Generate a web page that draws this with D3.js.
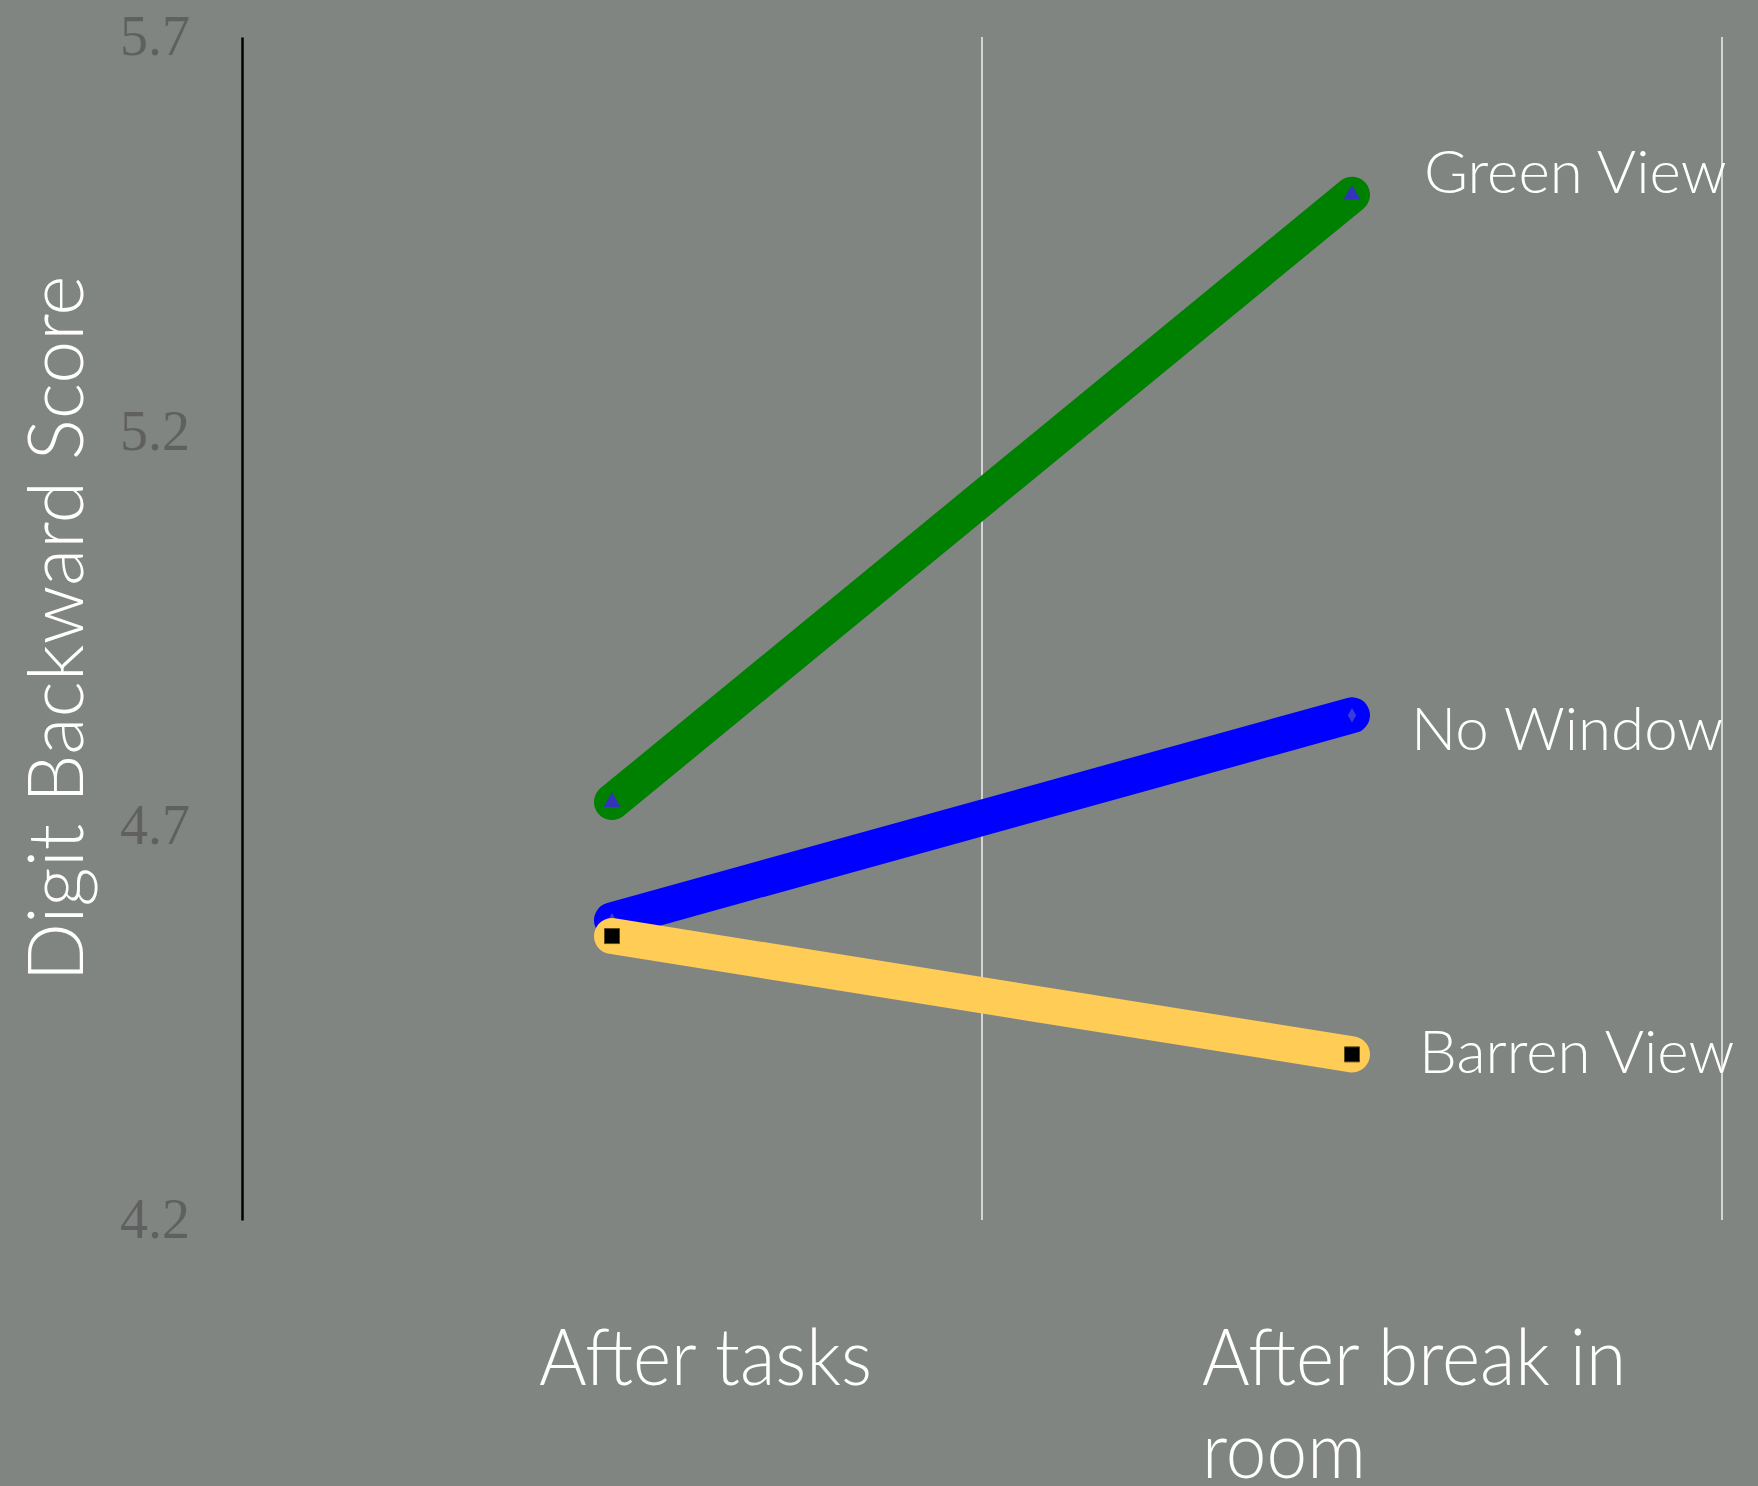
<!DOCTYPE html>
<html>
<head>
<meta charset="utf-8">
<script src="https://cdn.jsdelivr.net/npm/d3@7"></script>
<style>
  html, body { margin: 0; padding: 0; background: #808582; }
  svg { display: block; }
</style>
</head>
<body>
<svg id="chart" width="1758" height="1486"></svg>
<script>
// Digit backward scores at two measurement moments, per room condition
const categories = ["After tasks", "After break in room"];
const seriesNames = ["Green View", "No Window", "Barren View"];
const greenView = [4.73, 5.50];
const noWindow = [4.58, 4.84];
const barrenView = [4.56, 4.41];
const yTicks = [4.2, 4.7, 5.2, 5.7];
const yDomain = [4.2, 5.7];

const series = [
  { name: seriesNames[0], values: greenView, color: "#008000", marker: "triangle", markerColor: "#3333bb", markerSize: 15 },
  { name: seriesNames[1], values: noWindow, color: "#0000ff", marker: "diamond", markerColor: "#3a3ad6", markerSize: 10 },
  { name: seriesNames[2], values: barrenView, color: "#ffcc55", marker: "square", markerColor: "#000000", markerSize: 15 }
];

const svg = d3.select("#chart");
const W = 1758, H = 1486;
const plot = { left: 242, right: 1722, top: 37, bottom: 1220 };

svg.append("rect").attr("width", W).attr("height", H).attr("fill", "#808582");

const x = d3.scaleBand().domain(categories).range([plot.left, plot.right]).padding(0);
const y = d3.scaleLinear().domain(yDomain).range([plot.bottom, plot.top]);

// band boundary gridlines
const bounds = categories.map(c => x(c) + x.bandwidth());
svg.append("g").selectAll("line").data(bounds).join("line")
  .attr("x1", d => d).attr("x2", d => d)
  .attr("y1", plot.top).attr("y2", plot.bottom)
  .attr("stroke", "#d4d4d4").attr("stroke-width", 2);

// y axis
const yAxis = svg.append("g").attr("transform", `translate(${plot.left},0)`)
  .call(d3.axisLeft(y).tickValues(yTicks).tickFormat(d3.format(".1f")).tickSize(0).tickPadding(52));
yAxis.select(".domain").attr("stroke", "#000").attr("stroke-width", 2.5);
yAxis.selectAll("text")
  .attr("font-family", "'Liberation Serif', 'DejaVu Serif', serif")
  .attr("font-size", 56)
  .attr("fill", "#606060");

// y title
svg.append("text")
  .attr("transform", `translate(83, ${(plot.top + plot.bottom) / 2 + 0}) rotate(-90)`)
  .attr("text-anchor", "middle")
  .attr("font-family", "Lato, 'Open Sans', sans-serif")
  .attr("font-weight", 300)
  .attr("font-size", 76)
  .attr("textLength", 706)
  .attr("lengthAdjust", "spacingAndGlyphs")
  .attr("fill", "#ffffff")
  .text("Digit Backward Score");

// x category labels, wrapped onto lines and slightly condensed
const xLabelShift = [-73, -150];
const condense = 0.935;
const xLabels = svg.append("g");
categories.forEach((c, i) => {
  const cx = x(c) + x.bandwidth() / 2 + xLabelShift[i];
  const words = c.split(" ");
  const lines = i === 0 ? [c] : [words.slice(0, 3).join(" "), words.slice(3).join(" ")];
  lines.forEach((ln, k) => {
    const t = xLabels.append("text")
      .attr("x", cx).attr("y", 1385 + k * 93)
      .attr("font-family", "Lato, 'Open Sans', sans-serif")
      .attr("font-weight", 300)
      .attr("font-size", 78)
      .attr("fill", "#ffffff")
      .text(ln);
    const w = t.node().getComputedTextLength();
    t.attr("textLength", w * condense).attr("lengthAdjust", "spacingAndGlyphs");
  });
});

// lines with markers
const line = d3.line().x((d, i) => x(categories[i]) + x.bandwidth() / 2).y(d => y(d));
const symbolType = { triangle: d3.symbolTriangle, diamond: d3.symbolDiamond, square: d3.symbolSquare };

series.forEach(s => {
  const g = svg.append("g");
  g.append("path").datum(s.values)
    .attr("d", line)
    .attr("fill", "none")
    .attr("stroke", s.color)
    .attr("stroke-width", 36)
    .attr("stroke-linecap", "round")
    .attr("stroke-linejoin", "round");
  g.selectAll("path.m").data(s.values).join("path")
    .attr("class", "m")
    .attr("transform", (d, i) => `translate(${x(categories[i]) + x.bandwidth() / 2},${y(d)})`)
    .attr("d", d3.symbol().type(symbolType[s.marker]).size(s.markerSize * s.markerSize * (s.marker === "triangle" ? 0.55 : (s.marker === "diamond" ? 0.6 : 1))))
    .attr("fill", s.markerColor)
    .attr("stroke", s.marker === "square" ? "#5a4a10" : "none")
    .attr("stroke-width", 1);
});

// end labels
const labelDy = [-2, 35, 19];
const labelDx = [72, 59, 67];
series.forEach((s, i) => {
  svg.append("text")
    .attr("x", x(categories[1]) + x.bandwidth() / 2 + labelDx[i])
    .attr("y", y(s.values[1]) + labelDy[i])
    .attr("font-family", "Lato, 'Open Sans', sans-serif")
    .attr("font-weight", 300)
    .attr("font-size", 60)
    .attr("fill", "#ffffff")
    .text(s.name);
});
</script>
</body>
</html>
